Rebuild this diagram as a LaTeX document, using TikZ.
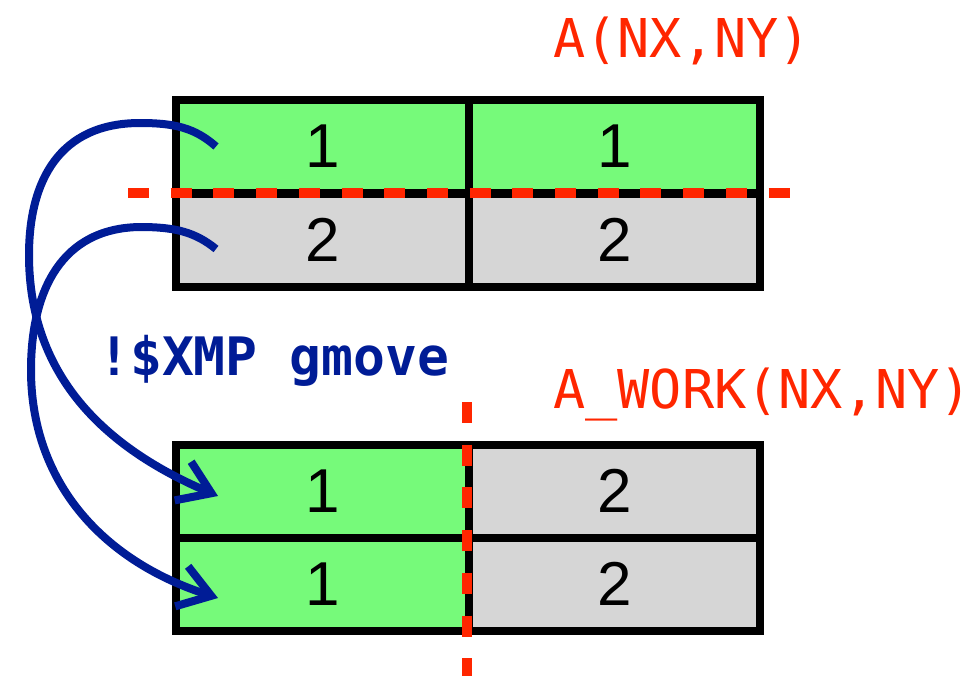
\documentclass[tikz,border=0pt]{standalone}
\usepackage{fontspec}
\setmainfont{Liberation Sans}
\newfontfamily\codefont{DejaVu Sans Mono}
\usetikzlibrary{arrows.meta}

\definecolor{cellgreen}{RGB}{118,250,122}
\definecolor{cellgray}{RGB}{214,214,214}
\definecolor{cutred}{RGB}{255,38,0}
\definecolor{movblue}{RGB}{0,28,150}

\tikzset{
  cell/.style={draw=black, line width=8pt, minimum height=93pt, inner sep=0pt,
               font=\fontsize{62}{62}\selectfont},
  lcell/.style={cell, minimum width=293pt},
  rcell/.style={cell, minimum width=291pt},
  arrname/.style={text=cutred, anchor=base west, inner sep=0pt,
                  font=\codefont\fontsize{53.5}{53.5}\selectfont},
  cutline/.style={draw=cutred, line width=10.5pt, dash pattern=on 21pt off 21.7pt},
  moveline/.style={draw=movblue, line width=8pt,
                   -{Straight Barb[length=31pt,width=42pt,line cap=butt,line join=miter]}},
}

\begin{document}
\begin{tikzpicture}[x=1pt, y=-1pt]
  \useasboundingbox (0,0) rectangle (976,675);

  % array A: rows split between images
  \node[lcell, fill=cellgreen] (a11) at (322.5,146.5) {1};
  \node[rcell, fill=cellgreen] (a12) at (614.5,146.5) {1};
  \node[lcell, fill=cellgray]  (a21) at (322.5,240)   {2};
  \node[rcell, fill=cellgray]  (a22) at (614.5,240)   {2};

  % work array: columns split between images
  \node[lcell, fill=cellgreen] (w11) at (322.5,491)   {1};
  \node[rcell, fill=cellgray]  (w12) at (614.5,491)   {2};
  \node[lcell, fill=cellgreen] (w21) at (322.5,584)   {1};
  \node[rcell, fill=cellgray]  (w22) at (614.5,584)   {2};

  % labels
  \node[arrname] (lblA) at (553,57) {A(NX,NY)};
  \node[arrname] (lblW) at (553,408) {A\_WORK(NX,NY)};
  \node[text=movblue, anchor=base west, inner sep=0pt,
        font=\codefont\bfseries\fontsize{53}{53}\selectfont] (dir) at (98,375) {!\$XMP gmove};

  % distribution cut lines
  \coordinate (hcutL) at (128,193);
  \coordinate (hcutR) at (790,193);
  \coordinate (vcutT) at (467,402);
  \coordinate (vcutB) at (467,676);
  \draw[cutline] (hcutL) -- (hcutR);
  \draw[cutline] (vcutT) -- (vcutB);

  % communication arrows
  \coordinate (srcA) at ([xshift=44pt]a11.west);
  \coordinate (srcB) at ([xshift=44pt,yshift=-9pt]a21.west);
  \coordinate (dstA) at ([xshift=46pt,yshift=-5pt]w11.west);
  \coordinate (dstB) at ([xshift=46pt,yshift=-14pt]w21.west);

  \draw[moveline] (srcA) .. controls (195,128) and (175,123) .. (140,123)
                        .. controls (60,123) and (29,180) .. (29,255)
                        .. controls (29,380) and (110,450) .. (dstA);
  \draw[moveline] (srcB) .. controls (195,232) and (175,227) .. (140,227)
                        .. controls (62,228) and (31,290) .. (31,370)
                        .. controls (31,480) and (100,560) .. (dstB);
\end{tikzpicture}
\end{document}
